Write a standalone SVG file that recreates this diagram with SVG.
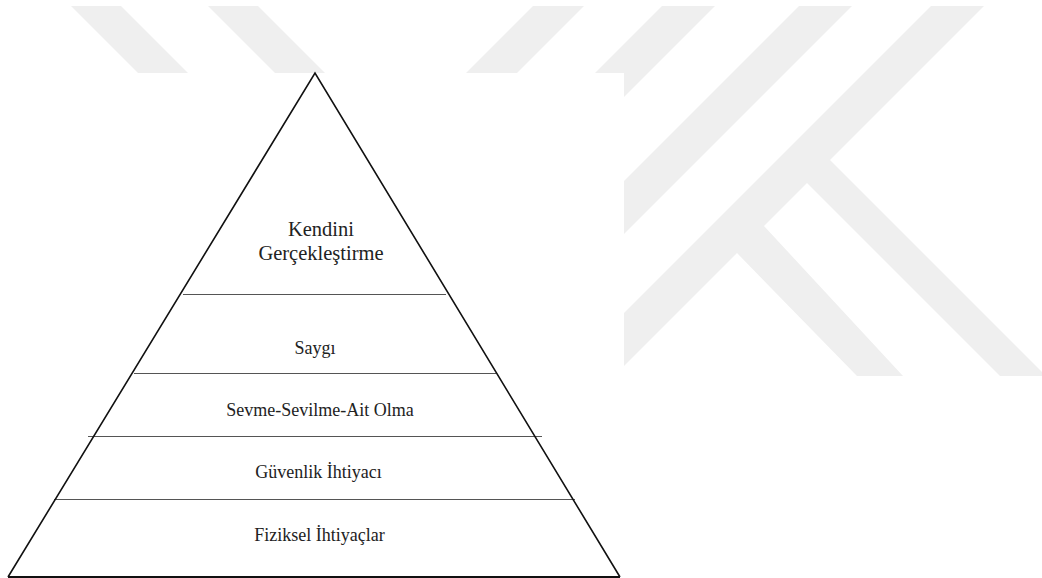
<svg xmlns="http://www.w3.org/2000/svg" width="1042" height="578" viewBox="0 0 1042 578">
<style>
.wm{fill:#efefef}
.edge{fill:none;stroke:#111;stroke-width:1.6;stroke-linejoin:miter}
.tier{stroke:#555;stroke-width:1.2}
.lbl{font-family:"Liberation Serif","Times New Roman",serif;font-size:18px;fill:#222;text-anchor:middle}
.big{font-size:20.5px}
</style>
<rect width="1042" height="578" fill="#fff"/>
<g id="watermark">
<polygon class="wm" points="71,6 121,6 201,86 151,86"/>
<polygon class="wm" points="208,6 258,6 338,86 288,86"/>
<polygon class="wm" points="533,6 584,6 504,86 453,86"/>
<polygon class="wm" points="662,6 715,6 560,161 507,161"/>
<polygon class="wm" points="799,6 852,6 552,306 499,306"/>
<polygon class="wm" points="931,6 984,6 830,160 1042,372 1042,376 1000,376 807,183 764,226 903,376 857,376 737,253 560,430 500,430 500,437"/>
</g>
<rect x="0" y="73" width="624" height="505" fill="#fff"/>
<g id="connectors">
<line class="tier" x1="183" y1="294.5" x2="446" y2="294.5"/>
<line class="tier" x1="134" y1="373.5" x2="496" y2="373.5"/>
<line class="tier" x1="88" y1="436.5" x2="542" y2="436.5"/>
<line class="tier" x1="54" y1="499.5" x2="575" y2="499.5"/>
</g>
<g id="pyramid">
<polyline class="edge" points="8,577 315,73 620,577"/>
<line x1="8" y1="577" x2="620" y2="577" stroke="#111" stroke-width="2.2"/>
</g>
<g id="node-kendini">
<text class="lbl big" x="321" y="236">Kendini</text>
<text class="lbl big" x="321" y="260">Gerçekleştirme</text>
</g>
<g id="node-saygi">
<text class="lbl" x="315" y="354">Saygı</text>
</g>
<g id="node-sevme">
<text class="lbl" x="320" y="416">Sevme-Sevilme-Ait Olma</text>
</g>
<g id="node-guvenlik">
<text class="lbl" x="318.5" y="478">Güvenlik İhtiyacı</text>
</g>
<g id="node-fiziksel">
<text class="lbl" x="319.5" y="541">Fiziksel İhtiyaçlar</text>
</g>
</svg>
